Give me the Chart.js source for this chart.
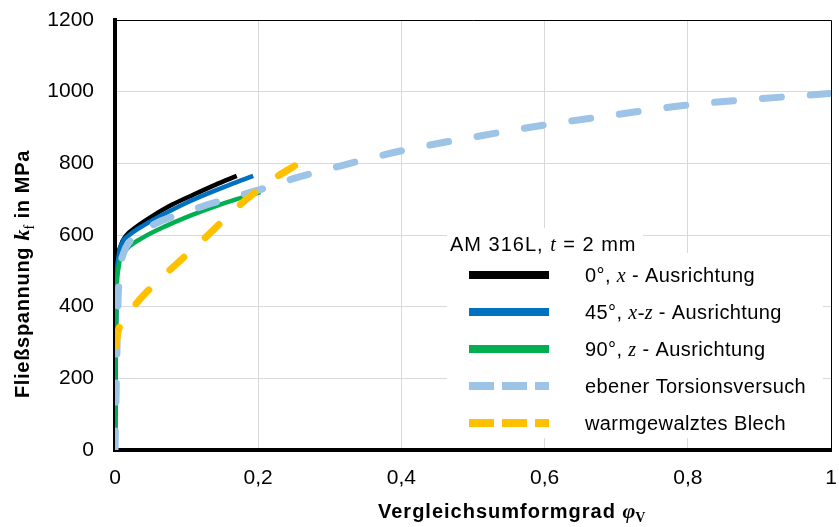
<!DOCTYPE html>
<html>
<head>
<meta charset="utf-8">
<script src="https://cdn.jsdelivr.net/npm/chart.js@4"></script>
<style>
  html, body { margin: 0; padding: 0; background: #fff; }
  #wrap { width: 839px; height: 527px; }
</style>
</head>
<body>
<div id="wrap"><canvas id="chart" width="839" height="527"></canvas></div>
<script>
// strain (phi_V) and flow stress (MPa)
const strain0 = [0, 0.001, 0.002, 0.004, 0.008, 0.015, 0.03, 0.05, 0.08, 0.11, 0.14, 0.17]
const stress0 = [0, 300, 450, 530, 570, 597, 623, 650, 685, 713, 740, 765]

const strain45 = [0, 0.001, 0.002, 0.005, 0.01, 0.02, 0.04, 0.07, 0.1, 0.13, 0.16, 0.193]
const stress45 = [0, 300, 450, 540, 578, 600, 627, 660, 690, 716, 740, 765]

const strain90 = [0, 0.001, 0.002, 0.005, 0.01, 0.02, 0.04, 0.07, 0.1, 0.14, 0.17, 0.203]
const stress90 = [0, 280, 420, 510, 543, 568, 594, 624, 650, 680, 700, 720]

const strainTorsion = [0, 0.002, 0.004, 0.007, 0.012, 0.02, 0.05, 0.1, 0.15, 0.2, 0.25, 0.3, 0.4, 0.5, 0.6, 0.7, 0.8, 0.9, 1.0]
const stressTorsion = [0, 200, 400, 500, 550, 580, 625, 665, 697, 725, 758, 785, 835, 873, 907, 936, 963, 980, 995]

const strainRolled = [0.001, 0.005, 0.01, 0.02, 0.04, 0.07, 0.1, 0.13, 0.16, 0.19, 0.22, 0.25, 0.283]
const stressRolled = [290, 335, 360, 385, 432, 490, 545, 600, 658, 710, 755, 792, 832]

const xTickLabels = ['0', '0,2', '0,4', '0,6', '0,8', '1']
const yTickLabels = ['0', '200', '400', '600', '800', '1000', '1200']
const seriesColors = ['#000000', '#0070C0', '#00B050', '#9DC3E6', '#FFC000']
const legendTitle = [['AM 316L, ', 'sans'], ['t', 'serif'], [' = 2 mm', 'sans']]
const legendLabels = [
  [['0°, ', 'sans'], ['x', 'serif'], [' - Ausrichtung', 'sans']],
  [['45°, ', 'sans'], ['x-z', 'serif'], [' - Ausrichtung', 'sans']],
  [['90°, ', 'sans'], ['z', 'serif'], [' - Ausrichtung', 'sans']],
  [['ebener Torsionsversuch', 'sans']],
  [['warmgewalztes Blech', 'sans']]
]

const toPoints = (xs, ys) => xs.map((x, i) => ({ x: x, y: ys[i] }))

const SANS = '"Liberation Sans", Arial, sans-serif'
const SERIF = '"Liberation Serif", "Times New Roman", serif'

// draw a row of text runs with different fonts, left aligned at x
const drawRuns = (ctx, runs, x, y) => {
  let cx = x
  runs.forEach(r => {
    ctx.font = r.font
    ctx.letterSpacing = r.ls || '0px'
    ctx.fillText(r.text, cx, y + (r.dy || 0))
    cx += ctx.measureText(r.text).width
  })
  ctx.letterSpacing = '0px'
  return cx - x
}

const measureRuns = (ctx, runs) => {
  let w = 0
  runs.forEach(r => {
    ctx.font = r.font
    ctx.letterSpacing = r.ls || '0px'
    w += ctx.measureText(r.text).width
  })
  ctx.letterSpacing = '0px'
  return w
}

const legendRuns = (parts, ls) => parts.map(p => ({
  text: p[0], ls: ls,
  font: p[1] == 'serif' ? 'italic 20px ' + SERIF : '20px ' + SANS
}))

const decorations = {
  id: 'decorations',
  beforeDatasetsDraw: (chart) => {
    const ctx = chart.ctx
    const a = chart.chartArea
    ctx.save()
    ctx.strokeStyle = '#000'
    ctx.lineWidth = 1
    ctx.beginPath()
    ctx.moveTo(a.left, a.top + 0.5)
    ctx.lineTo(a.right + 0.5, a.top + 0.5)
    ctx.lineTo(a.right + 0.5, a.bottom)
    ctx.stroke()
    ctx.restore()
  },
  afterDraw: (chart) => {
    const ctx = chart.ctx
    ctx.save()
    ctx.fillStyle = '#000'
    ctx.textBaseline = 'alphabetic'

    // y axis title (rotated)
    const yRuns = [
      { text: 'Fließspannung ', font: 'bold 20px ' + SANS, ls: '0.7px' },
      { text: 'k', font: 'bold italic 22px ' + SERIF },
      { text: 'f', font: '14px ' + SERIF, dy: 5 },
      { text: ' in MPa', font: 'bold 20px ' + SANS, ls: '0.7px' }
    ]
    ctx.save()
    ctx.translate(29, 274)
    ctx.rotate(-Math.PI / 2)
    drawRuns(ctx, yRuns, -measureRuns(ctx, yRuns) / 2, 0)
    ctx.restore()

    // x axis title
    const xRuns = [
      { text: 'Vergleichsumformgrad ', font: 'bold 20px ' + SANS, ls: '1px' },
      { text: 'φ', font: 'bold italic 22px ' + SERIF },
      { text: 'V', font: 'bold 14px ' + SERIF, dy: 4 }
    ]
    drawRuns(ctx, xRuns, 378, 518)

    // legend boxes
    ctx.fillStyle = '#fff'
    ctx.fillRect(447, 228, 196, 26)
    ctx.fillRect(447, 253, 376, 185)

    ctx.fillStyle = '#000'
    drawRuns(ctx, legendRuns(legendTitle, '1px'), 450, 251)

    const rowY = [275, 312, 349, 386, 423]
    legendLabels.forEach((parts, i) => {
      const y = rowY[i]
      ctx.save()
      ctx.strokeStyle = seriesColors[i]
      ctx.lineWidth = 8
      ctx.lineCap = 'butt'
      if (i >= 3) ctx.setLineDash([25, 8])
      ctx.beginPath()
      ctx.moveTo(469, y)
      ctx.lineTo(549, y)
      ctx.stroke()
      ctx.restore()
      ctx.fillStyle = '#000'
      drawRuns(ctx, legendRuns(parts, '0.4px'), 585, y + 7)
    })
    ctx.restore()
  }
}

const solid = (label, pts, color, order) => ({
  label: label, data: pts, borderColor: color, backgroundColor: color,
  borderWidth: 4.5, pointRadius: 0, showLine: true,
  cubicInterpolationMode: 'monotone', order: order
})

const dashed = (label, pts, color, order) => ({
  label: label, data: pts, borderColor: color, backgroundColor: color,
  borderWidth: 7, borderDash: [19, 29], borderCapStyle: 'round',
  pointRadius: 0, showLine: true, cubicInterpolationMode: 'monotone', order: order
})

// fixed plot box, ignore label overhang
const noOverhang = (scale) => {
  scale.paddingTop = 0
  scale.paddingBottom = 0
  scale.paddingLeft = 0
  scale.paddingRight = 0
}

const ctx = document.getElementById('chart').getContext('2d')
new Chart(ctx, {
  type: 'scatter',
  data: {
    datasets: [
      solid('0°', toPoints(strain0, stress0), seriesColors[0], 5),
      solid('45°', toPoints(strain45, stress45), seriesColors[1], 4),
      solid('90°', toPoints(strain90, stress90), seriesColors[2], 3),
      dashed('Torsion', toPoints(strainTorsion, stressTorsion), seriesColors[3], 2),
      dashed('Blech', toPoints(strainRolled, stressRolled), seriesColors[4], 1)
    ]
  },
  options: {
    responsive: false,
    animation: false,
    layout: { padding: { left: 0, right: 8, top: 20, bottom: 0 } },
    plugins: { legend: { display: false }, tooltip: { enabled: false } },
    scales: {
      x: {
        type: 'linear', min: 0, max: 1,
        afterFit: (scale) => { scale.height = 77; noOverhang(scale) },
        grid: { color: '#d9d9d9', lineWidth: 1, drawTicks: false },
        border: { color: '#000', width: 4 },
        ticks: {
          stepSize: 0.2, padding: 16, color: '#000',
          font: { family: SANS, size: 21 },
          callback: (v, i) => xTickLabels[i]
        }
      },
      y: {
        type: 'linear', min: 0, max: 1200,
        afterFit: (scale) => { scale.width = 115; noOverhang(scale) },
        grid: { color: '#d9d9d9', lineWidth: 1, drawTicks: false },
        border: { color: '#000', width: 4 },
        ticks: {
          stepSize: 200, padding: 21, color: '#000',
          font: { family: SANS, size: 21 },
          callback: (v, i) => yTickLabels[i]
        }
      }
    }
  },
  plugins: [decorations]
})
</script>
</body>
</html>
